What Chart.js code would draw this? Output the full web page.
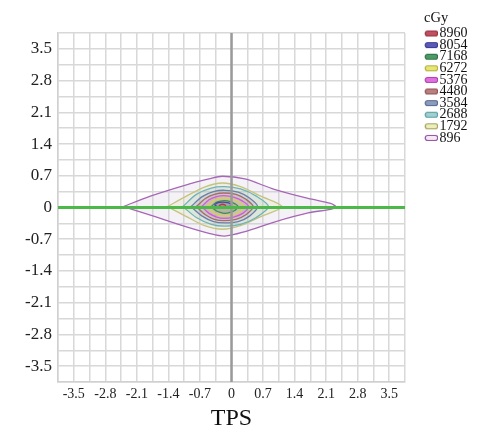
<!DOCTYPE html>
<html><head><meta charset="utf-8">
<script src="https://cdn.jsdelivr.net/npm/chart.js@4"></script>
<style>html,body{margin:0;padding:0;background:#fff}</style>
</head><body>
<canvas id="c" width="477" height="433"></canvas>
<script>
// ---- data ----
const doseLevels = ['8960','8054','7168','6272','5376','4480','3584','2688','1792','896'];
const gridValues = [-3.85,-3.5,-3.15,-2.8,-2.45,-2.1,-1.75,-1.4,-1.05,-0.7,-0.35,0,0.35,0.7,1.05,1.4,1.75,2.1,2.45,2.8,3.15,3.5,3.85];
const tickLabelValues = [-3.5,-2.8,-2.1,-1.4,-0.7,0,0.7,1.4,2.1,2.8,3.5];
const axisRange = [-3.85, 3.85];
const hLine = [{x:-3.85,y:0},{x:3.85,y:0}];
const vLine = [{x:0,y:-3.85},{x:0,y:3.85}];

const c8960 = [{x:-0.28,y:0.04},{x:-0.22,y:0.07},{x:-0.15,y:0.06},{x:-0.13,y:0.03},{x:-0.18,y:0.01},{x:-0.25,y:0.01},{x:-0.28,y:0.04}];
const c8054 = [{x:-0.38,y:0.06},{x:-0.30,y:0.11},{x:-0.20,y:0.12},{x:-0.08,y:0.11},{x:0.00,y:0.06},{x:-0.08,y:0.01},{x:-0.20,y:0.00},{x:-0.30,y:0.01},{x:-0.38,y:0.06}];
const c7168 = [{x:-0.45,y:0.02},{x:-0.36,y:0.10},{x:-0.25,y:0.14},{x:-0.15,y:0.15},{x:-0.03,y:0.13},{x:0.08,y:0.08},{x:0.15,y:0.02},{x:0.08,y:-0.06},{x:-0.03,y:-0.11},{x:-0.15,y:-0.13},{x:-0.25,y:-0.11},{x:-0.36,y:-0.06},{x:-0.45,y:0.02}];
const c6272 = [{x:-0.55,y:0.02},{x:-0.42,y:0.14},{x:-0.28,y:0.19},{x:-0.17,y:0.21},{x:0.00,y:0.19},{x:0.17,y:0.12},{x:0.28,y:0.02},{x:0.17,y:-0.10},{x:0.00,y:-0.17},{x:-0.17,y:-0.19},{x:-0.28,y:-0.17},{x:-0.42,y:-0.10},{x:-0.55,y:0.02}];
const c5376 = [{x:-0.66,y:0.02},{x:-0.50,y:0.17},{x:-0.33,y:0.24},{x:-0.17,y:0.26},{x:0.05,y:0.23},{x:0.25,y:0.14},{x:0.38,y:0.02},{x:0.25,y:-0.13},{x:0.05,y:-0.21},{x:-0.17,y:-0.24},{x:-0.33,y:-0.21},{x:-0.50,y:-0.13},{x:-0.66,y:0.02}];
const c4480 = [{x:-0.78,y:0.02},{x:-0.58,y:0.20},{x:-0.38,y:0.29},{x:-0.17,y:0.32},{x:0.10,y:0.29},{x:0.32,y:0.18},{x:0.48,y:0.02},{x:0.32,y:-0.16},{x:0.10,y:-0.26},{x:-0.17,y:-0.29},{x:-0.38,y:-0.26},{x:-0.58,y:-0.16},{x:-0.78,y:0.02}];
const c3584 = [{x:-0.90,y:0.02},{x:-0.65,y:0.24},{x:-0.40,y:0.35},{x:-0.15,y:0.38},{x:0.15,y:0.34},{x:0.40,y:0.21},{x:0.58,y:0.02},{x:0.40,y:-0.19},{x:0.15,y:-0.31},{x:-0.15,y:-0.34},{x:-0.40,y:-0.31},{x:-0.65,y:-0.19},{x:-0.90,y:0.02}];
const c2688 = [{x:-1.08,y:0.02},{x:-0.78,y:0.29},{x:-0.45,y:0.43},{x:-0.15,y:0.46},{x:0.20,y:0.41},{x:0.55,y:0.25},{x:0.82,y:0.02},{x:0.55,y:-0.22},{x:0.20,y:-0.37},{x:-0.15,y:-0.41},{x:-0.45,y:-0.37},{x:-0.78,y:-0.22},{x:-1.08,y:0.02}];
const c1792 = [{x:-1.42,y:0.02},{x:-1.00,y:0.25},{x:-0.60,y:0.45},{x:-0.20,y:0.54},{x:0.20,y:0.46},{x:0.65,y:0.25},{x:1.12,y:0.02},{x:0.65,y:-0.20},{x:0.20,y:-0.40},{x:-0.20,y:-0.48},{x:-0.60,y:-0.40},{x:-1.00,y:-0.20},{x:-1.42,y:0.02}];
const c896 = [{x:-2.40,y:0.02},{x:-1.80,y:0.25},{x:-1.00,y:0.50},{x:-0.50,y:0.63},{x:-0.20,y:0.69},{x:0.30,y:0.63},{x:0.95,y:0.40},{x:1.70,y:0.20},{x:2.20,y:0.09},{x:2.32,y:0.01},{x:2.20,y:-0.04},{x:1.70,y:-0.12},{x:0.95,y:-0.32},{x:0.30,y:-0.53},{x:-0.15,y:-0.63},{x:-0.50,y:-0.57},{x:-1.00,y:-0.43},{x:-1.80,y:-0.17},{x:-2.40,y:0.02}];
const contours = [c8960,c8054,c7168,c6272,c5376,c4480,c3584,c2688,c1792,c896];

// ---- styles ----
const strokeColors = ['#b23a48','#4a4aa6','#3d8c56','#d4d44c','#d45ad4','#a86a6a','#6c7fa8','#6fb3b8','#c4c47e','#a767b6'];
const areaColors = ['rgba(178,58,72,0.2)','rgba(74,74,166,0.18)','rgba(61,140,86,0.18)','rgba(212,212,76,0.18)','rgba(212,90,212,0.14)','rgba(168,106,106,0.14)','rgba(108,127,168,0.14)','rgba(111,179,184,0.14)','rgba(225,225,160,0.22)','rgba(205,195,220,0.22)'];
const legendFills = ['#c05060','#5a5ab8','#4c9a64','#e6e670','#e070e0','#b88080','#8c9cbc','#a0d0d0','#eeeebb','#f6e8f6'];
const legendStrokes = ['#983040','#3c3c90','#2e7044','#b0b040','#b040b0','#905050','#5a6a90','#5a9ca0','#a0a060','#9050a0'];

// pill-shaped legend swatch (image used as point style)
function makePill(fill, stroke) {
  const cv = document.createElement('canvas');
  cv.width = 22; cv.height = 8;
  const g = cv.getContext('2d');
  g.beginPath();
  if (g.roundRect) g.roundRect(9.2, 1.5, 12.5, 5, 2.5); else g.rect(9.2, 1.5, 12.5, 5);
  g.fillStyle = fill; g.fill();
  g.lineWidth = 1.2; g.strokeStyle = stroke; g.stroke();
  return cv;
}

const serif = 'Liberation Serif';
const labelFor = v => tickLabelValues.some(t => Math.abs(t - v) < 1e-9) ? String(v) : '';

const datasets = [
  {label:'y0', data:hLine, borderColor:'#4cb847', borderWidth:3, showLine:true, pointRadius:0, fill:false, order:0},
  {label:'x0', data:vLine, borderColor:'#9a9a9a', borderWidth:2.5, showLine:true, pointRadius:0, fill:false, order:1}
];
contours.forEach((pts, i) => {
  datasets.push({
    label: doseLevels[i], data: pts, borderColor: strokeColors[i], backgroundColor: areaColors[i],
    borderWidth: 1.3, showLine: true, pointRadius: 0, fill: 'shape', tension: 0.3, order: i + 2,
    swatch: makePill(legendFills[i], legendStrokes[i])
  });
});

new Chart(document.getElementById('c'), {
  type: 'scatter',
  data: { datasets },
  options: {
    responsive: false, animation: false, events: [],
    layout: { padding: { top: 4, right: -0.5, left: 0, bottom: 0 } },
    plugins: {
      tooltip: { enabled: false },
      title: { display: false },
      legend: {
        position: 'right', align: 'start',
        title: { display: true, text: 'cGy', position: 'start', color: '#111',
                 font: { family: serif, size: 14.5 }, padding: { top: 7, bottom: 0.5 } },
        labels: {
          usePointStyle: true, pointStyleWidth: 10.9, boxHeight: 8, padding: -2.4,
          color: '#111', font: { family: serif, size: 14 },
          generateLabels: chart => chart.data.datasets.map((ds, i) => ({
            text: ds.label, fillStyle: ds.borderColor, strokeStyle: ds.borderColor,
            lineWidth: 0, pointStyle: ds.swatch || 'rect', hidden: false, datasetIndex: i, fontColor: '#111'
          })),
          filter: item => item.datasetIndex >= 2
        }
      }
    },
    scales: {
      x: {
        type: 'linear', position: 'bottom', min: axisRange[0], max: axisRange[1],
        afterBuildTicks: s => { s.ticks = gridValues.map(v => ({ value: v })); },
        afterFit: s => { s.height = 51; },
        grid: { color: '#d8d8d8', lineWidth: 1.5, drawTicks: false },
        border: { color: '#d0d0d0', width: 1.5 },
        ticks: { autoSkip: false, maxRotation: 0, padding: 4, color: '#222', font: { family: serif, size: 14 }, callback: v => labelFor(v) },
        title: { display: true, text: 'TPS', color: '#111', font: { family: serif, size: 24 }, padding: { top: 0, bottom: 0 } }
      },
      y: {
        type: 'linear', position: 'left', min: axisRange[0], max: axisRange[1],
        afterBuildTicks: s => { s.ticks = gridValues.map(v => ({ value: v })); },
        afterFit: s => { s.width = 58; },
        grid: { color: '#d8d8d8', lineWidth: 1.5, drawTicks: false },
        border: { color: '#d0d0d0', width: 1.5 },
        ticks: { autoSkip: false, padding: 6, color: '#222', font: { family: serif, size: 17 }, callback: v => labelFor(v) }
      },
      x2: { type: 'linear', position: 'top', display: true, grid: { display: false }, border: { display: false }, ticks: { display: false }, afterFit: s => { s.height = 29; } },
      y2: { type: 'linear', position: 'right', display: true, grid: { display: false }, border: { display: false }, ticks: { display: false }, afterFit: s => { s.width = 19; } }
    }
  }
});
</script>
</body></html>
